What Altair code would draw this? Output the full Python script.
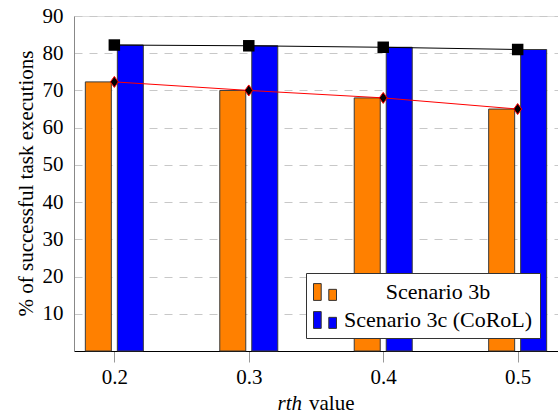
import altair as alt
import pandas as pd

rth = [0.2, 0.3, 0.4, 0.5]
s3b = [72.3, 70.0, 68.0, 65.0]
s3c = [82.2, 82.0, 81.6, 81.0]
series_names = ["Scenario 3b", "Scenario 3c (CoRoL)"]
y_ticks = [10, 20, 30, 40, 50, 60, 70, 80, 90]

df_b = pd.DataFrame({"rth": rth, "value": s3b, "series": series_names[0]})
df_c = pd.DataFrame({"rth": rth, "value": s3c, "series": series_names[1]})

FONT = "Liberation Serif"
ORANGE = "#FF8000"
BLUE = "#0000FF"

xscale = alt.Scale(domain=[0.17, 0.53], nice=False, zero=False, padding=0)
yscale = alt.Scale(domain=[0, 90], nice=False, padding=0)

x_enc = alt.X("rth:Q", scale=xscale, title=None,
              axis=alt.Axis(values=rth, format=".1f", grid=False,
                            domainColor="black", tickColor="#999",
                            tickSize=11, labelPadding=21,
                            labelBaseline="alphabetic",
                            labelFont=FONT, labelFontSize=21,
                            labelColor="black"))
y_enc = alt.Y("value:Q", scale=yscale,
              title="% of successful task executions",
              axis=alt.Axis(values=y_ticks, grid=True, gridColor="#c8c8c8",
                            gridDash=[8, 7], gridWidth=1,
                            domainColor="#888", tickSize=0, labelPadding=11,
                            labelFont=FONT, labelFontSize=21, labelColor="black",
                            titleFont=FONT, titleFontSize=21, titleFontWeight="normal",
                            titleColor="black", titleX=-48, titleY=167,
                            titleBaseline="middle", titleAlign="center",
                            titleAngle=270))

legend_symbol = "M-1,-0.73H-0.33V0.73H-1Z M0.33,-0.23H1V0.73H0.33Z"
color_enc = alt.Color("series:N",
                      scale=alt.Scale(domain=series_names, range=[ORANGE, BLUE]),
                      legend=alt.Legend(title=None, orient="none",
                                        legendX=232, legendY=257,
                                        symbolType=legend_symbol, symbolSize=529,
                                        symbolStrokeColor="#333",
                                        symbolStrokeWidth=1,
                                        labelFont=FONT, labelFontSize=22,
                                        labelColor="black", labelOffset=101,
                                        labelAlign="center",
                                        padding=7, rowPadding=5,
                                        fillColor="white", strokeColor="#333",
                                        cornerRadius=0, labelLimit=400))

bars_b = alt.Chart(df_b).mark_bar(size=26, xOffset=-16, stroke="#3a3a3a",
                                  strokeWidth=1).encode(x=x_enc, y=y_enc, color=color_enc)
bars_c = alt.Chart(df_c).mark_bar(size=26, xOffset=16, stroke="#3a3a3a",
                                  strokeWidth=1).encode(x=x_enc, y=y_enc, color=color_enc)

line_b = alt.Chart(df_b).mark_line(color="red", strokeWidth=1).encode(x=x_enc, y=y_enc)
line_c = alt.Chart(df_c).mark_line(color="black", strokeWidth=1).encode(x=x_enc, y=y_enc)

diamond = "M0,-1L0.72,0L0,1L-0.72,0Z"
pts_b = alt.Chart(df_b).mark_point(shape=diamond, size=121, filled=True,
                                   fill="black", stroke="red", strokeWidth=1,
                                   opacity=1).encode(x=x_enc, y=y_enc)
pts_c = alt.Chart(df_c).mark_point(shape="square", size=132, filled=True,
                                   color="black", opacity=1).encode(x=x_enc, y=y_enc)

title_df = pd.DataFrame({"a": ["rth"], "b": ["value"]})
t1 = alt.Chart(title_df).mark_text(font=FONT, fontSize=21, fontStyle="italic",
                                   align="right", baseline="alphabetic",
                                   color="black").encode(
    x=alt.value(228), y=alt.value(394), text="a:N")
t2 = alt.Chart(title_df).mark_text(font=FONT, fontSize=21,
                                   align="left", baseline="alphabetic",
                                   color="black").encode(
    x=alt.value(235), y=alt.value(394), text="b:N")

chart = alt.layer(bars_b, bars_c, line_b, line_c, pts_b, pts_c, t1, t2).properties(
    width=484, height=335,
    autosize=alt.AutoSizeParams(type="none"),
    padding={"left": 74, "top": 16, "right": 0, "bottom": 67},
).configure_view(stroke=None).configure(background="white", font=FONT
).configure_axis(labelFont=FONT, titleFont=FONT)

chart.save("out.html", embed_options={"renderer": "svg", "actions": False})
